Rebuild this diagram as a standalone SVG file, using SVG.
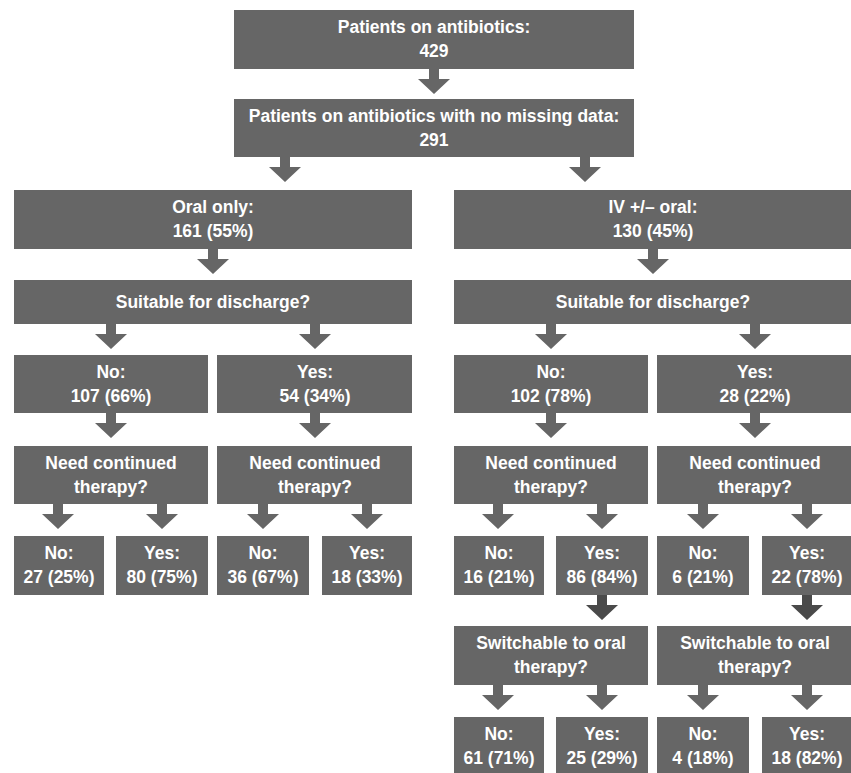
<svg xmlns="http://www.w3.org/2000/svg" xmlns:xlink="http://www.w3.org/1999/xlink" width="851" height="773" viewBox="0 0 851 773">
<defs>
<style>
.box{fill:#666666}
.t{font-family:"Liberation Sans",Arial,sans-serif;font-weight:bold;font-size:17.5px;fill:#ffffff;text-anchor:middle}
.arr{fill:#666666}
.arrd{fill:#4a4a4a}
</style>
<path id="arrow" d="M-5,0 H5 V10 H16 L0,25 L-16,10 H-5 Z"/>
</defs>
<rect width="851" height="773" fill="#ffffff"/>

<g id="connectors">
<use xlink:href="#arrow" href="#arrow" class="arr" x="434" y="69"/>
<use xlink:href="#arrow" href="#arrow" class="arr" x="285" y="157"/>
<use xlink:href="#arrow" href="#arrow" class="arr" x="585" y="157"/>
<use xlink:href="#arrow" href="#arrow" class="arr" x="213" y="249"/>
<use xlink:href="#arrow" href="#arrow" class="arr" x="653" y="249"/>
<use xlink:href="#arrow" href="#arrow" class="arr" x="111" y="324"/>
<use xlink:href="#arrow" href="#arrow" class="arr" x="315" y="324"/>
<use xlink:href="#arrow" href="#arrow" class="arr" x="551" y="324"/>
<use xlink:href="#arrow" href="#arrow" class="arr" x="755" y="324"/>
<use xlink:href="#arrow" href="#arrow" class="arr" x="111" y="413"/>
<use xlink:href="#arrow" href="#arrow" class="arr" x="315" y="413"/>
<use xlink:href="#arrow" href="#arrow" class="arr" x="551" y="413"/>
<use xlink:href="#arrow" href="#arrow" class="arr" x="755" y="413"/>
<use xlink:href="#arrow" href="#arrow" class="arr" x="58" y="504"/>
<use xlink:href="#arrow" href="#arrow" class="arr" x="162" y="504"/>
<use xlink:href="#arrow" href="#arrow" class="arr" x="263" y="504"/>
<use xlink:href="#arrow" href="#arrow" class="arr" x="367" y="504"/>
<use xlink:href="#arrow" href="#arrow" class="arr" x="498" y="504"/>
<use xlink:href="#arrow" href="#arrow" class="arr" x="602" y="504"/>
<use xlink:href="#arrow" href="#arrow" class="arr" x="703" y="504"/>
<use xlink:href="#arrow" href="#arrow" class="arr" x="807" y="504"/>
<use xlink:href="#arrow" href="#arrow" class="arrd" x="602" y="595"/>
<use xlink:href="#arrow" href="#arrow" class="arrd" x="807" y="595"/>
<use xlink:href="#arrow" href="#arrow" class="arr" x="498" y="685"/>
<use xlink:href="#arrow" href="#arrow" class="arr" x="602" y="685"/>
<use xlink:href="#arrow" href="#arrow" class="arr" x="703" y="685"/>
<use xlink:href="#arrow" href="#arrow" class="arr" x="807" y="685"/>
</g>

<g id="n-total"><rect class="box" x="234" y="10" width="400" height="59"/><text class="t" x="434" y="33">Patients on antibiotics:</text><text class="t" x="434" y="57">429</text></g>
<g id="n-complete"><rect class="box" x="234" y="99" width="400" height="58"/><text class="t" x="434" y="122">Patients on antibiotics with no missing data:</text><text class="t" x="434" y="146">291</text></g>

<g id="n-oral"><rect class="box" x="14" y="190" width="398" height="59"/><text class="t" x="213" y="213">Oral only:</text><text class="t" x="213" y="237">161 (55%)</text></g>
<g id="n-iv"><rect class="box" x="454" y="190" width="398" height="59"/><text class="t" x="653" y="213">IV +/– oral:</text><text class="t" x="653" y="237">130 (45%)</text></g>

<g id="n-oral-discharge"><rect class="box" x="14" y="280" width="398" height="44"/><text class="t" x="213" y="308">Suitable for discharge?</text></g>
<g id="n-iv-discharge"><rect class="box" x="454" y="280" width="398" height="44"/><text class="t" x="653" y="308">Suitable for discharge?</text></g>

<g id="n-oral-no"><rect class="box" x="14" y="355" width="194" height="58"/><text class="t" x="111" y="378">No:</text><text class="t" x="111" y="402">107 (66%)</text></g>
<g id="n-oral-yes"><rect class="box" x="217" y="355" width="195" height="58"/><text class="t" x="315" y="378">Yes:</text><text class="t" x="315" y="402">54 (34%)</text></g>
<g id="n-iv-no"><rect class="box" x="454" y="355" width="194" height="58"/><text class="t" x="551" y="378">No:</text><text class="t" x="551" y="402">102 (78%)</text></g>
<g id="n-iv-yes"><rect class="box" x="657" y="355" width="195" height="58"/><text class="t" x="755" y="378">Yes:</text><text class="t" x="755" y="402">28 (22%)</text></g>

<g id="n-oral-no-cont"><rect class="box" x="14" y="446" width="194" height="58"/><text class="t" x="111" y="469">Need continued</text><text class="t" x="111" y="493">therapy?</text></g>
<g id="n-oral-yes-cont"><rect class="box" x="217" y="446" width="195" height="58"/><text class="t" x="315" y="469">Need continued</text><text class="t" x="315" y="493">therapy?</text></g>
<g id="n-iv-no-cont"><rect class="box" x="454" y="446" width="194" height="58"/><text class="t" x="551" y="469">Need continued</text><text class="t" x="551" y="493">therapy?</text></g>
<g id="n-iv-yes-cont"><rect class="box" x="657" y="446" width="195" height="58"/><text class="t" x="755" y="469">Need continued</text><text class="t" x="755" y="493">therapy?</text></g>

<g id="n-a-no"><rect class="box" x="14" y="536" width="90" height="59"/><text class="t" x="59" y="559">No:</text><text class="t" x="59" y="583">27 (25%)</text></g>
<g id="n-a-yes"><rect class="box" x="116" y="536" width="92" height="59"/><text class="t" x="162" y="559">Yes:</text><text class="t" x="162" y="583">80 (75%)</text></g>
<g id="n-b-no"><rect class="box" x="217" y="536" width="92" height="59"/><text class="t" x="263" y="559">No:</text><text class="t" x="263" y="583">36 (67%)</text></g>
<g id="n-b-yes"><rect class="box" x="322" y="536" width="90" height="59"/><text class="t" x="367" y="559">Yes:</text><text class="t" x="367" y="583">18 (33%)</text></g>
<g id="n-c-no"><rect class="box" x="454" y="536" width="90" height="59"/><text class="t" x="499" y="559">No:</text><text class="t" x="499" y="583">16 (21%)</text></g>
<g id="n-c-yes"><rect class="box" x="556" y="536" width="92" height="59"/><text class="t" x="602" y="559">Yes:</text><text class="t" x="602" y="583">86 (84%)</text></g>
<g id="n-d-no"><rect class="box" x="657" y="536" width="92" height="59"/><text class="t" x="703" y="559">No:</text><text class="t" x="703" y="583">6 (21%)</text></g>
<g id="n-d-yes"><rect class="box" x="762" y="536" width="90" height="59"/><text class="t" x="807" y="559">Yes:</text><text class="t" x="807" y="583">22 (78%)</text></g>

<g id="n-c-switch"><rect class="box" x="454" y="626" width="194" height="59"/><text class="t" x="551" y="649">Switchable to oral</text><text class="t" x="551" y="673">therapy?</text></g>
<g id="n-d-switch"><rect class="box" x="657" y="626" width="195" height="59"/><text class="t" x="755" y="649">Switchable to oral</text><text class="t" x="755" y="673">therapy?</text></g>

<g id="n-e-no"><rect class="box" x="454" y="717" width="90" height="59"/><text class="t" x="499" y="740">No:</text><text class="t" x="499" y="764">61 (71%)</text></g>
<g id="n-e-yes"><rect class="box" x="556" y="717" width="92" height="59"/><text class="t" x="602" y="740">Yes:</text><text class="t" x="602" y="764">25 (29%)</text></g>
<g id="n-f-no"><rect class="box" x="657" y="717" width="92" height="59"/><text class="t" x="703" y="740">No:</text><text class="t" x="703" y="764">4 (18%)</text></g>
<g id="n-f-yes"><rect class="box" x="762" y="717" width="90" height="59"/><text class="t" x="807" y="740">Yes:</text><text class="t" x="807" y="764">18 (82%)</text></g>
</svg>
